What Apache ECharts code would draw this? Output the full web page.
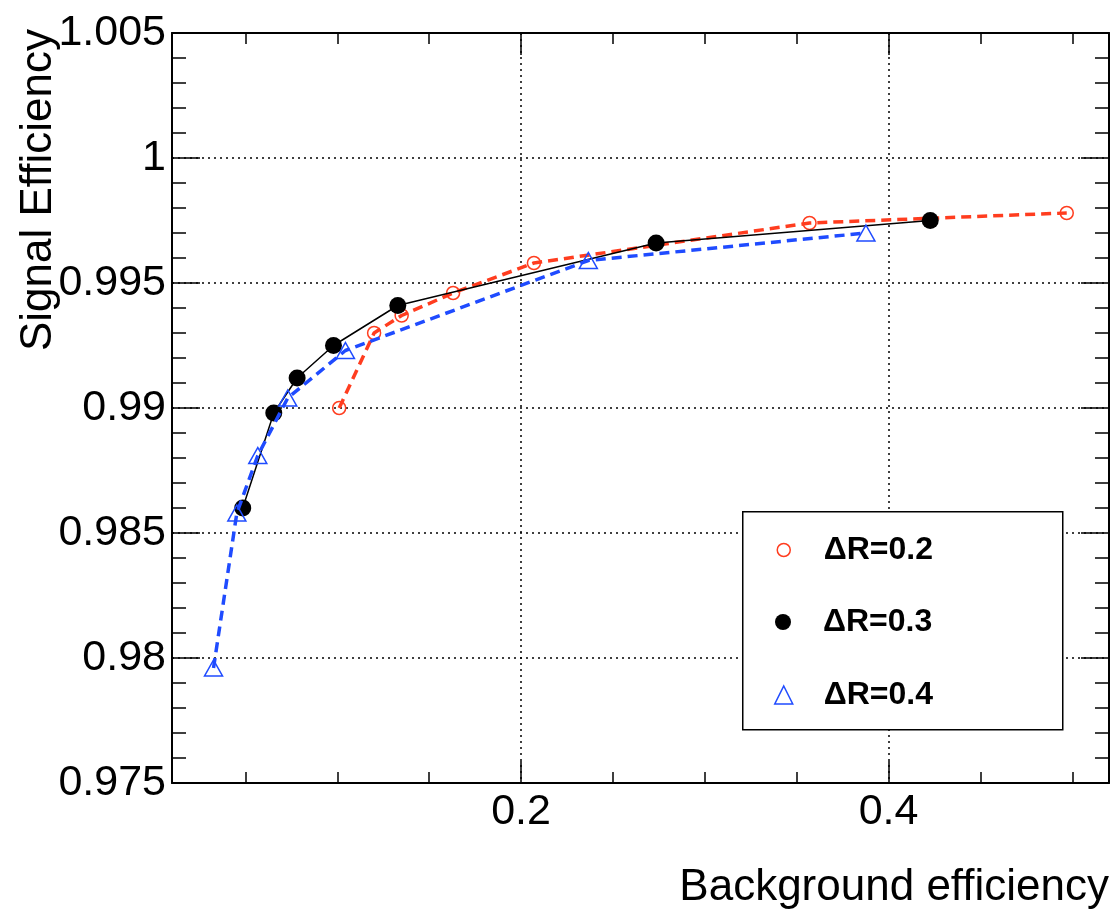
<!DOCTYPE html>
<html>
<head>
<meta charset="utf-8">
<script src="https://cdn.jsdelivr.net/npm/echarts@6/dist/echarts.min.js"></script>
<style>
html,body{margin:0;padding:0;background:#fff;}
#chart{width:1113px;height:909px;}
</style>
</head>
<body>
<div id="chart"></div>
<script>
// ---- data ----
const seriesNames = ['ΔR=0.2', 'ΔR=0.3', 'ΔR=0.4'];
const bgEff02  = [0.101, 0.120, 0.135, 0.163, 0.207, 0.357, 0.497];
const sigEff02 = [0.9900, 0.9930, 0.9937, 0.9946, 0.9958, 0.9974, 0.9978];
const bgEff03  = [0.0485, 0.0654, 0.0781, 0.0979, 0.1329, 0.2735, 0.4227];
const sigEff03 = [0.9860, 0.9898, 0.9912, 0.9925, 0.9941, 0.9966, 0.9975];
const bgEff04  = [0.0326, 0.0453, 0.0567, 0.0730, 0.1044, 0.2366, 0.3877];
const sigEff04 = [0.9796, 0.9858, 0.9881, 0.9904, 0.9923, 0.9959, 0.9970];
const xMajorTicks = [0.2, 0.4];
const xMinorTicks = [0.05, 0.1, 0.15, 0.2, 0.25, 0.3, 0.35, 0.4, 0.45, 0.5];
const xTitle = 'Background efficiency';
const yTitle = 'Signal Efficiency';

const pairs = (xs, ys) => xs.map((x, i) => [x, ys[i]]);
const FONT = 'Liberation Sans, Arial, Helvetica, sans-serif';
const RED = '#ff3d1f', BLUE = '#1f4bff', BLACK = '#000';
const XMIN = 0.01, XMAX = 0.52, YMIN = 0.975, YMAX = 1.005;

const chart = echarts.init(document.getElementById('chart'), null, {renderer: 'canvas'});

function xAx(pos, ticks, len, labels, split, line) {
  return {
    type: 'value', min: XMIN, max: XMAX, position: pos,
    axisLine: {show: line, onZero: false, lineStyle: {color: BLACK, width: 2}},
    axisTick: {show: true, inside: true, length: len, customValues: ticks, lineStyle: {color: BLACK, width: 1.5}},
    axisLabel: labels ? {show: true, customValues: xMajorTicks, fontSize: 43, fontFamily: FONT, color: BLACK, margin: 8} : {show: false},
    splitLine: {show: split, lineStyle: {color: BLACK, width: 1.5, type: [2, 4]}},
    minorTick: {show: false}
  };
}
function yAx(pos, labels, split) {
  return {
    type: 'value', min: YMIN, max: YMAX, interval: 0.005, position: pos,
    axisLine: {show: true, onZero: false, lineStyle: {color: BLACK, width: 2}},
    axisTick: {show: true, inside: true, length: 28, lineStyle: {color: BLACK, width: 1.5}},
    minorTick: {show: true, splitNumber: 5, length: 14, lineStyle: {color: BLACK, width: 1.5}},
    axisLabel: labels ? {show: true, fontSize: 43, fontFamily: FONT, color: BLACK, margin: 6} : {show: false},
    splitLine: {show: split, lineStyle: {color: BLACK, width: 1.5, type: [2, 4]}}
  };
}

// one legend per entry so each marker keeps its own size
function legendFor(name, size, centerY, style) {
  return {
    data: [{name: name, icon: style.icon, itemStyle: style.itemStyle}],
    orient: 'vertical', left: 783 - size / 2, top: centerY - 16, padding: 0,
    itemWidth: size, itemHeight: size, selectedMode: false,
    textStyle: {fontSize: 32, fontWeight: 'bold', fontFamily: FONT, color: BLACK,
                padding: [0, 0, 0, 35 - size / 2]},
    z: 10
  };
}

const option = {
  backgroundColor: '#fff',
  animation: false,
  grid: {left: 172, right: 4, top: 33, bottom: 126, containLabel: false},
  xAxis: [
    xAx('bottom', xMajorTicks, 22, true, true, true),
    xAx('bottom', xMinorTicks, 11, false, false, false),
    xAx('top', xMajorTicks, 22, false, false, true),
    xAx('top', xMinorTicks, 11, false, false, false)
  ],
  yAxis: [
    yAx('left', true, true),
    yAx('right', false, false)
  ],
  legend: [
    legendFor(seriesNames[0], 13, 550, {icon: 'circle', itemStyle: {color: 'rgba(0,0,0,0)', borderColor: RED, borderWidth: 1.5}}),
    legendFor(seriesNames[1], 16, 622, {icon: 'circle', itemStyle: {color: BLACK, borderWidth: 0}}),
    legendFor(seriesNames[2], 18, 695, {icon: 'triangle', itemStyle: {color: 'rgba(0,0,0,0)', borderColor: BLUE, borderWidth: 1.5}})
  ],
  graphic: [
    {type: 'rect', left: 742, top: 511, z: 5,
     shape: {width: 320, height: 218},
     style: {fill: '#fff', stroke: BLACK, lineWidth: 1.5}},
    {type: 'text', x: 39, y: 29, rotation: Math.PI / 2, z: 10,
     style: {text: yTitle, font: '44px ' + FONT, fill: BLACK, textAlign: 'right', textVerticalAlign: 'middle'}},
    {type: 'text', x: 1109, y: 888, z: 10,
     style: {text: xTitle, font: '44px ' + FONT, fill: BLACK, textAlign: 'right', textVerticalAlign: 'middle'}}
  ],
  series: [
    {name: seriesNames[0], type: 'line', xAxisIndex: 0, yAxisIndex: 0,
     data: pairs(bgEff02, sigEff02),
     symbol: 'circle', symbolSize: 13,
     itemStyle: {color: 'rgba(0,0,0,0)', borderColor: RED, borderWidth: 1.5},
     lineStyle: {color: RED, width: 3.5, type: [10, 6]}, z: 2},
    {name: seriesNames[1], type: 'line', xAxisIndex: 0, yAxisIndex: 0,
     data: pairs(bgEff03, sigEff03),
     symbol: 'circle', symbolSize: 17,
     itemStyle: {color: BLACK, borderWidth: 0},
     lineStyle: {color: BLACK, width: 1.5, type: 'solid'}, z: 3},
    {name: seriesNames[2], type: 'line', xAxisIndex: 0, yAxisIndex: 0,
     data: pairs(bgEff04, sigEff04),
     symbol: 'triangle', symbolSize: [18, 16],
     itemStyle: {color: 'rgba(0,0,0,0)', borderColor: BLUE, borderWidth: 1.5},
     lineStyle: {color: BLUE, width: 3.5, type: [10, 6]}, z: 4}
  ]
};
chart.setOption(option);
</script>
</body>
</html>
